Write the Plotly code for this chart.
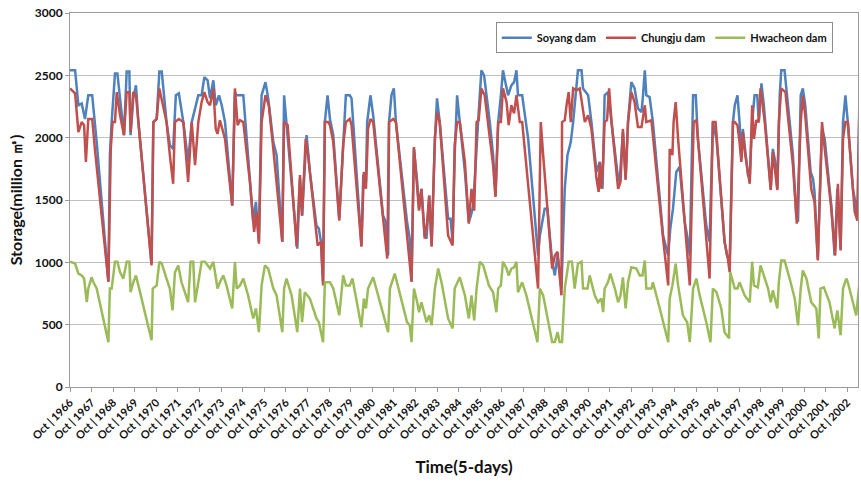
import plotly.graph_objects as go

# x: 5-day period index counted from Oct 1966 (72 periods per year)
soyang_t = [0,17,28,39,50,61,74,83,89,128,133,139,150,158,172,180,189,198,202,211,220,228,272,278,289,298,306,322,333,344,353,363,378,394,406,
            428,439,448,459,467,478,486,497,506,517,541,550,556,578,594,611,620,630,639,652,661,678,689,708,714,722,750,758,767,774,789,800,822,830,837,844,850,859,
            867,878,898,911,920,933,939,972,978,987,991,1002,1011,1044,1053,1061,1064,1072,1080,1087,1124,1133,1139,1147,1158,1164,1172,1183,1189,1198,1206,1217,1224,1233,1261,1269,1276,1283,1291,1300,
            1317,1330,1337,1345,1356,1361,1372,1381,1400,1411,1419,1428,1437,1444,1452,1461,1472,1481,1489,1494,1508,1528,1561,1567,1583,1592,1608,1617,1626,1639,1650,1659,1670,1678,1694,1706,1711,1728,1739,1756,
            1767,1776,1783,1794,1806,1828,1833,1844,1853,1861,1872,1883,1894,1906,1911,1917,1922,1933,1944,1978,1989,1995,2002,2011,2022,2033,2050,2058,2067,2078,2087,2094,2122,2133,2144,2156,2183,2191,2200,2211,
            2217,2226,2233,2239,2244,2252,2261,2267,2275,2283,2292,2297,2306,2314,2328,2337,2344,2352,2359,2367,2372,2383,2389,2411,2422,2428,2437,2444,2452,2470,2478,2483,2494,2508,2517,2539,2550,2559,2570,2578,2586,2594,2611,2619,2626,2633]
soyang_v = [2540,2540,2260,2275,2150,2340,2340,2070,1965,845,1860,2125,2515,2515,2180,2020,2530,2530,2020,2315,2420,2125,990,2125,2150,2530,2530,2125,1940,1910,2340,2355,2125,1805,2125,
            2340,2340,2485,2460,2315,2460,2260,2340,2260,2125,1455,2365,2340,2340,1860,1325,1485,1165,2340,2445,2315,1965,1860,1165,2340,2125,1375,1110,1670,1375,2020,1725,1295,1270,1165,845,2125,2340,
            2150,2020,1350,1990,2340,2340,2315,1135,1700,1645,2125,2340,2180,1375,1325,1055,2125,2340,2395,2125,1325,1190,845,1910,1645,1430,1590,1215,1190,1535,1135,1990,2315,2125,1350,1350,1165,1860,2340,2125,
            1725,1325,1375,1455,1990,2125,2540,2500,2125,1860,1535,2125,2340,2540,2445,2340,2420,2445,2540,2340,2340,1990,1055,1215,1430,1430,1005,895,1055,790,1590,1860,1965,2125,2540,2540,2395,2340,2125,1725,
            1805,1590,2340,2365,2125,1670,1645,2045,1670,2125,2445,2395,2235,2205,2340,2540,2340,2325,2125,1215,1110,1055,1270,1430,1725,1765,1325,1215,1055,2340,2340,1990,1295,1165,2125,1990,1165,1055,1005,2125,
            2260,2340,2125,1830,2070,1910,1700,1670,2125,2340,2340,2125,2435,2260,1860,1590,1910,1805,1590,2340,2540,2540,2395,1860,1375,1325,2340,2395,2260,1725,1670,1565,1030,2070,1990,1455,1055,1590,1110,2125,2340,2125,1590,1485,1350,2260]

chungju_t = [0,17,28,39,47,53,61,74,83,128,136,142,150,156,167,180,189,198,202,211,220,228,272,278,289,298,322,333,344,350,363,378,394,406,
             417,428,439,448,459,467,478,486,492,500,517,541,550,559,567,578,600,614,622,630,639,652,663,678,708,714,726,756,767,774,786,794,817,826,837,844,850,861,
             867,878,898,911,920,933,939,972,980,987,994,1002,1011,1044,1058,1064,1078,1087,1124,1139,1147,1158,1164,1172,1183,1191,1198,1206,1217,1224,1233,1261,1276,1283,1291,1300,
             1317,1330,1339,1348,1356,1363,1372,1383,1397,1411,1419,1428,1437,1444,1456,1463,1472,1481,1489,1500,1508,1561,1570,1578,1608,1617,1626,1639,1641,1650,1656,1663,1670,1678,1689,1700,1717,1728,1739,1756,1763,
             1767,1772,1778,1783,1791,1798,1806,1828,1836,1844,1853,1861,1872,1883,1894,1906,1917,1922,1939,1978,1995,2000,2009,2013,2020,2028,2067,2080,2089,2122,2133,2144,2153,2183,2194,2200,2211,
             2217,2226,2233,2239,2244,2252,2267,2275,2281,2289,2297,2303,2317,2328,2337,2344,2359,2364,2372,2386,2411,2424,2437,2444,2452,2472,2483,2494,2508,2517,2539,2552,2561,2570,2578,2586,2594,2617,2626,2633]
chungju_v = [2395,2355,2045,2125,2100,1805,2150,2150,1910,845,1910,2125,2125,2365,2180,2020,2365,2365,2045,2365,2340,2125,975,2125,2150,2395,2125,1860,1630,2125,2150,2125,1645,2125,
             1780,2125,2285,2365,2285,2260,2395,2070,2030,2140,1990,1455,2395,2100,2140,2125,1645,1245,1405,1150,2125,2340,2260,1910,1165,2125,2100,1125,1700,1375,1990,1860,1325,1135,1165,815,2125,2125,
             2100,1965,1335,1940,2125,2150,2100,1125,1725,1590,2070,2150,2125,1325,1030,2125,2150,2125,1215,845,1925,1620,1415,1590,1190,1325,1535,1125,1990,2205,2125,1215,1135,1940,2125,2125,
             1805,1310,1590,1415,2125,2140,2395,2340,2070,1780,1525,2125,2125,2395,2285,2100,2260,2195,2340,2125,2125,790,2125,1860,950,1055,1085,735,2125,2140,2260,2365,2125,2395,2380,2395,2125,2180,2070,1670,1565,
             1805,1590,1805,2125,2140,2395,2125,1590,1645,2070,1660,2125,2365,2285,2085,2085,2260,2125,2140,1190,815,1910,1860,2125,2285,1990,815,2125,2140,1190,870,2125,2125,1165,1030,920,2125,
             2125,2100,1965,1805,2045,1860,1630,2260,1990,2140,2125,2395,2125,1805,1580,1885,1580,2125,2395,2365,1780,1310,2125,2340,2180,1590,1485,1015,2125,1910,1430,1055,1630,1095,1990,2125,2125,1405,1335,2365]

hwacheon_t = [0,17,28,39,47,56,61,72,78,83,89,128,133,139,150,158,167,178,189,198,202,211,220,228,272,276,289,298,306,322,333,342,350,361,372,394,402,411,
              417,428,439,450,461,467,478,486,492,500,511,522,541,550,556,567,578,594,611,620,630,639,650,661,678,689,708,714,722,739,750,758,767,774,783,800,822,830,844,850,861,
              867,878,898,911,920,933,942,972,980,987,994,1011,1044,1061,1067,1083,1124,1133,1139,1147,1158,1164,1172,1189,1198,1206,1217,1228,1239,1261,1276,1283,1300,
              1317,1330,1339,1348,1356,1367,1378,1397,1411,1422,1428,1437,1444,1456,1463,1472,1481,1489,1494,1508,1522,1559,1567,1578,1600,1608,1617,1626,1633,1641,1650,1663,1674,1683,1694,1706,1711,1726,1733,1750,1761,
              1772,1778,1783,1794,1802,1817,1828,1836,1844,1853,1861,1872,1889,1900,1909,1917,1922,1939,1944,1967,1983,1995,2000,2009,2020,2028,2044,2058,2067,2078,2089,2100,2122,2136,2144,2156,2172,2183,2198,2202,
              2217,2226,2233,2241,2250,2267,2275,2281,2294,2303,2317,2328,2337,2344,2359,2364,2372,2383,2400,2417,2428,2437,2444,2456,2472,2489,2497,2503,2514,2533,2550,2559,2570,2578,2589,2594,2611,2622,2633]
hwacheon_v = [1005,990,910,895,870,680,790,880,840,815,790,360,790,790,1005,1005,920,870,1005,1005,760,840,895,815,375,790,815,1005,990,870,790,615,920,975,840,680,1005,1005,
              680,840,1005,1005,975,950,1005,870,790,840,895,815,630,1005,790,815,870,735,550,630,440,815,975,950,790,735,440,790,870,735,550,440,790,520,760,710,550,520,360,840,840,
              840,790,575,895,815,815,870,480,710,630,790,880,600,440,790,910,520,495,360,790,680,600,680,520,575,495,790,950,840,550,470,790,880,
              735,550,735,535,790,1005,975,815,760,600,790,815,1005,950,895,950,960,1005,760,840,735,360,790,735,440,360,360,440,360,360,790,1005,1005,790,990,1005,790,790,895,735,680,
              710,600,790,840,910,790,680,735,880,630,840,960,950,895,895,1015,790,790,840,630,470,360,710,815,990,815,575,520,360,790,870,735,520,360,790,760,630,440,390,920,
              790,790,840,790,735,680,1005,815,800,975,870,790,680,775,630,840,1015,1015,870,710,495,790,935,870,680,630,390,790,800,680,470,615,415,790,870,840,680,575,840]

years = list(range(1966, 2003))
tick_vals = [72 * i for i in range(len(years))]
tick_text = [f"Oct | {y}" for y in years]

FONT = "Lato"

fig = go.Figure()
fig.add_trace(go.Scatter(x=soyang_t, y=soyang_v, mode="lines", name="Soyang dam",
                         line=dict(color="#4F81BD", width=2.5)))
fig.add_trace(go.Scatter(x=chungju_t, y=chungju_v, mode="lines", name="Chungju dam",
                         line=dict(color="#C0504D", width=2.5)))
fig.add_trace(go.Scatter(x=hwacheon_t, y=hwacheon_v, mode="lines", name="Hwacheon dam",
                         line=dict(color="#9BBB59", width=2.5)))

fig.update_layout(
    width=861, height=483,
    margin=dict(l=70, r=3, t=13, b=96, autoexpand=False),
    paper_bgcolor="white", plot_bgcolor="white",
    font=dict(family=FONT, color="#222222"),
    showlegend=True,
    legend=dict(orientation="h", x=0.968, y=0.975, xanchor="right", yanchor="top",
                bgcolor="white", bordercolor="#8c8c8c", borderwidth=1,
                font=dict(family=FONT, size=11, color="#111111", weight="bold"),
                itemwidth=30, tracegroupgap=0),
)
fig.update_xaxes(
    range=[0, 2628], tickmode="array", tickvals=tick_vals, ticktext=tick_text,
    tickangle=-45, tickfont=dict(family=FONT, size=11, color="#111111", weight="bold"),
    showgrid=False, showline=True, linecolor="#9a9a9a", linewidth=1, mirror=True,
    ticks="outside", ticklen=4, tickcolor="#9a9a9a", zeroline=False,
    title=dict(text="Time(5-days)", font=dict(family=FONT, size=17, color="#111111", weight="bold"), standoff=20),
)
fig.update_yaxes(
    range=[0, 3000], tickvals=[0, 500, 1000, 1500, 2000, 2500, 3000],
    tickfont=dict(family=FONT, size=12, color="#111111", weight="bold"),
    showgrid=True, gridcolor="#c0c0c0", gridwidth=1,
    showline=True, linecolor="#9a9a9a", linewidth=1, mirror=True,
    ticks="outside", ticklen=4, tickcolor="#9a9a9a", zeroline=False,
    title=dict(text="Storage(million ㎥)", font=dict(family=FONT, size=16, color="#111111", weight="bold"), standoff=8),
)

fig.write_html("out.html")
